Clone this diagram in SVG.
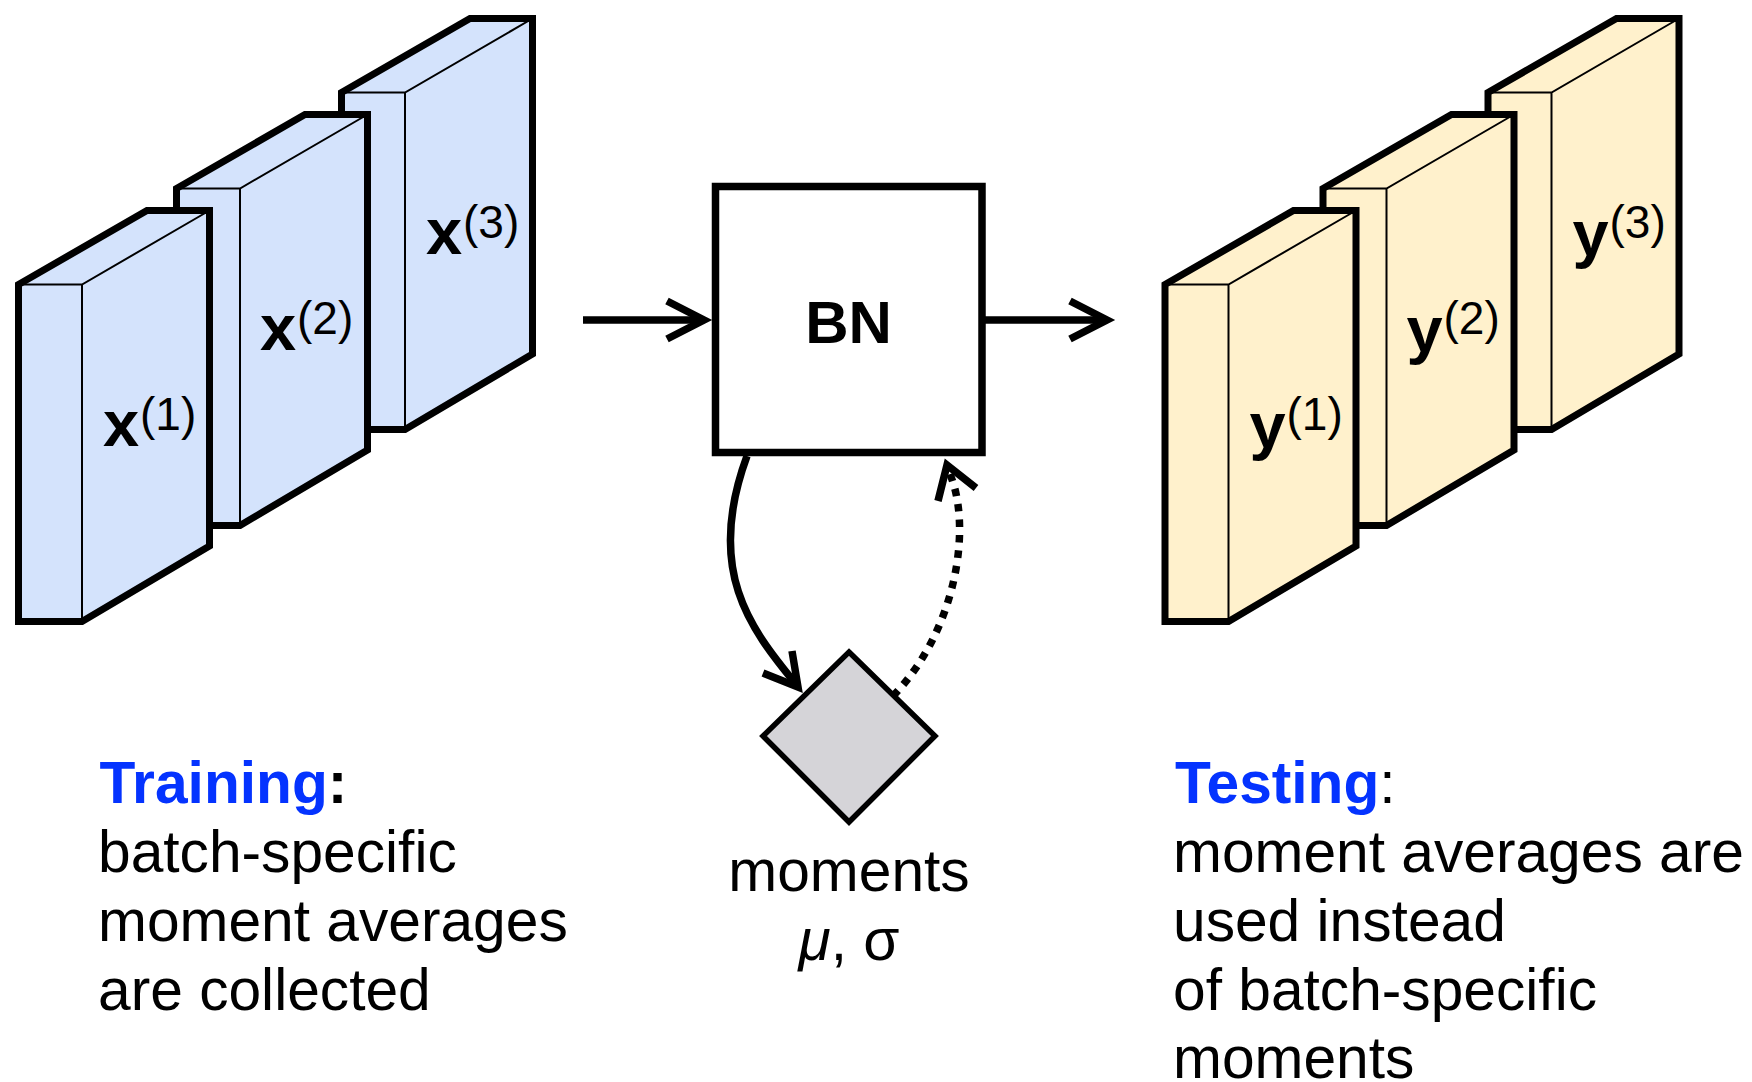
<svg xmlns="http://www.w3.org/2000/svg" xmlns:xlink="http://www.w3.org/1999/xlink" width="1752" height="1082" viewBox="0 0 1752 1082">
  <style>
    .outer { stroke: #000; stroke-width: 7; stroke-linejoin: miter; }
    .inner { fill: none; stroke: #000; stroke-width: 2; }
    .blue { fill: #d4e3fc; }
    .yellow { fill: #fff1cc; }
    .lbl { font-family: "Liberation Sans", Arial, Helvetica, sans-serif; font-weight: bold; font-size: 65px; fill: #000; }
    .sup { font-family: "Liberation Sans", Arial, Helvetica, sans-serif; font-size: 46px; fill: #000; }
    .txt { font-family: "Liberation Sans", Arial, Helvetica, sans-serif; font-size: 58.7px; fill: #000; }
    .bold { font-weight: bold; }
    .hl { fill: #0433ff; }
    .edge { fill: none; stroke: #000; stroke-width: 7.5; }
    .head { fill: none; stroke: #000; stroke-width: 7.5; stroke-linejoin: miter; }
    .dotted { stroke-dasharray: 7.5 8; }
  </style>
  <defs>
    <!-- one slab: left side face, top face and front face -->
    <g id="slab">
      <polygon class="outer" points="18.5,284.5 147,210.5 209.5,210.5 209.5,546 82,621.5 18.5,621.5"/>
      <path class="inner" d="M18.5,284.5 H82 L209.5,210.5 M82,284.5 V621.5"/>
    </g>
    <marker id="chev" markerUnits="userSpaceOnUse" orient="auto" markerWidth="60" markerHeight="60" viewBox="-45 -30 60 60" refX="0" refY="0" overflow="visible">
      <path class="head" d="M-37,-19 L0,0 L-37,19"/>
    </marker>
  </defs>

  <rect width="1752" height="1082" fill="#fff"/>

  <!-- input batches -->
  <g id="x3">
    <use xlink:href="#slab" href="#slab" class="blue" transform="translate(323,-192)"/>
    <text class="lbl" x="426" y="254">x</text>
    <text class="sup" x="463" y="238">(3)</text>
  </g>
  <g id="x2">
    <use xlink:href="#slab" href="#slab" class="blue" transform="translate(158,-96)"/>
    <text class="lbl" x="260" y="350">x</text>
    <text class="sup" x="297" y="334">(2)</text>
  </g>
  <g id="x1">
    <use xlink:href="#slab" href="#slab" class="blue"/>
    <text class="lbl" x="103" y="446">x</text>
    <text class="sup" x="140" y="430">(1)</text>
  </g>

  <!-- batch norm block -->
  <g id="bn">
    <rect x="715.5" y="186.5" width="266.5" height="266" fill="#fff" stroke="#000" stroke-width="7.5"/>
    <text class="txt bold" x="848.5" y="343" text-anchor="middle" style="font-size:60px">BN</text>
  </g>

  <!-- running moments -->
  <g id="moments">
    <polygon points="849,652 935,736 849,822 763,736" fill="#d5d4d8" stroke="#000" stroke-width="5.5"/>
    <text class="txt" x="849" y="891" text-anchor="middle">moments</text>
    <text class="txt" x="849" y="960" text-anchor="middle"><tspan font-style="italic">μ</tspan>, σ</text>
  </g>

  <!-- output batches -->
  <g id="y3">
    <use xlink:href="#slab" href="#slab" class="yellow" transform="translate(1469.5,-192)"/>
    <text class="lbl" x="1572.5" y="256">y</text>
    <text class="sup" x="1609.5" y="238">(3)</text>
  </g>
  <g id="y2">
    <use xlink:href="#slab" href="#slab" class="yellow" transform="translate(1304.5,-96)"/>
    <text class="lbl" x="1406.5" y="352">y</text>
    <text class="sup" x="1443.5" y="334">(2)</text>
  </g>
  <g id="y1">
    <use xlink:href="#slab" href="#slab" class="yellow" transform="translate(1146.5,0)"/>
    <text class="lbl" x="1249.5" y="448">y</text>
    <text class="sup" x="1286.5" y="430">(1)</text>
  </g>

  <!-- connectors -->
  <g id="connectors">
    <path class="edge" d="M583,320 H704" marker-end="url(#chev)"/>
    <path class="edge" d="M982,320 H1107" marker-end="url(#chev)"/>
    <!-- BN to moments: collected statistics -->
    <path class="edge" d="M747,456 C705,570 750,628 795,683"/>
    <path class="head" d="M763,673 L798,687 L792,651"/>
    <!-- moments back to BN: averages used at test time -->
    <path class="edge dotted" d="M893,696 C957,630 973,525 949,472"/>
    <path class="head" d="M938,501 L947,465 L976,488"/>
  </g>

  <!-- captions -->
  <g id="training">
    <text class="txt bold" x="99.5" y="803"><tspan class="hl">Training</tspan>:</text>
    <text class="txt" x="98" y="872">batch-specific</text>
    <text class="txt" x="98" y="941">moment averages</text>
    <text class="txt" x="98" y="1010">are collected</text>
  </g>
  <g id="testing">
    <text class="txt" x="1175" y="803"><tspan class="bold hl">Testing</tspan>:</text>
    <text class="txt" x="1173" y="872">moment averages are</text>
    <text class="txt" x="1173" y="941">used instead</text>
    <text class="txt" x="1173" y="1010">of batch-specific</text>
    <text class="txt" x="1173" y="1078">moments</text>
  </g>
</svg>
